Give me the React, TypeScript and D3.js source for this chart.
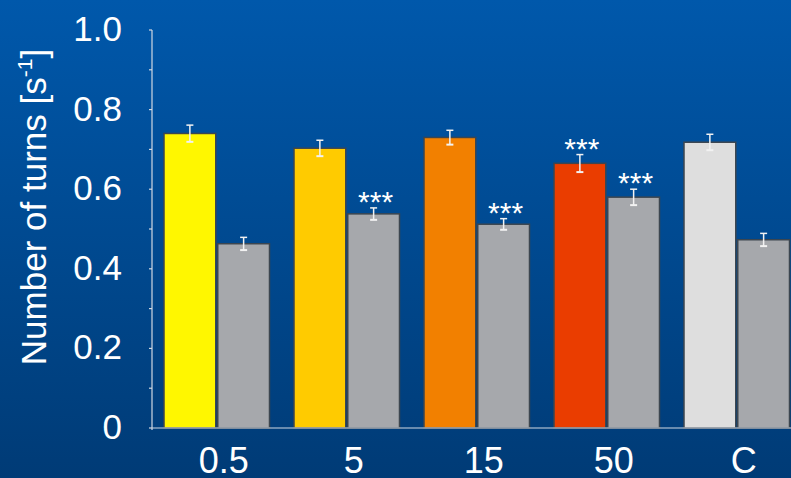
import React from "react";
import * as d3 from "d3";

const groups = ["0.5", "5", "15", "50", "C"];
const treatedValues = [0.74, 0.703, 0.73, 0.665, 0.718];
const treatedErrors = [0.021, 0.02, 0.018, 0.022, 0.02];
const grayValues = [0.463, 0.538, 0.512, 0.58, 0.473];
const grayErrors = [0.016, 0.015, 0.014, 0.02, 0.016];
const treatedColors = ["#FFF700", "#FFCB00", "#F28000", "#EA3D00", "#DEDEDE"];
const treatedStars = ["", "", "", "***", ""];
const grayStars = ["", "***", "***", "***", ""];
const yTicks = [0, 0.2, 0.4, 0.6, 0.8, 1.0];
const yMinorTicks = [0.1, 0.3, 0.5, 0.7, 0.9];

const W = 791;
const H = 478;
const FONT = "Liberation Sans, Arial, sans-serif";

export default function App() {
  const axisX = 152;
  const y = d3.scaleLinear().domain([0, 1]).range([428, 30]);
  const x0 = d3.scaleBand<string>().domain(groups).range([151.75, 801.75]).padding(0);
  const x1 = d3
    .scaleBand<string>()
    .domain(["t", "g"])
    .range([0, x0.bandwidth()])
    .paddingInner(0.0372)
    .paddingOuter(0.228);
  const bw = x1.bandwidth();

  const bars: any[] = [];
  groups.forEach((g, i) => {
    bars.push({ key: g + "t", x: (x0(g) as number) + (x1("t") as number), v: treatedValues[i], e: treatedErrors[i], fill: treatedColors[i], star: treatedStars[i] });
    bars.push({ key: g + "g", x: (x0(g) as number) + (x1("g") as number), v: grayValues[i], e: grayErrors[i], fill: "#A6A8AC", star: grayStars[i] });
  });

  const tickStr = (t: number) => (t === 0 ? "0" : t === 1 ? "1.0" : d3.format(".1f")(t));

  return (
    <svg width={W} height={H} style={{ position: "fixed", left: 0, top: 0, display: "block" }} fontFamily={FONT}>
      <defs>
        <linearGradient id="bg" x1="0" y1="0" x2="0" y2="1">
          <stop offset="0" stopColor="#0058AB" />
          <stop offset="1" stopColor="#003B76" />
        </linearGradient>
      </defs>
      <rect x={0} y={0} width={W} height={H} fill="url(#bg)" />

      {/* bars */}
      {bars.map((b) => (
        <g key={b.key}>
          <rect x={b.x} y={y(b.v)} width={bw} height={y(0) - y(b.v)} fill={b.fill} stroke="#3C4650" strokeWidth={1.5} />
          <line x1={b.x + bw / 2} x2={b.x + bw / 2} y1={y(b.v + b.e)} y2={y(b.v - b.e)} stroke="#F2F2F2" strokeWidth={1.5} />
          <line x1={b.x + bw / 2 - 3.5} x2={b.x + bw / 2 + 3.5} y1={y(b.v + b.e)} y2={y(b.v + b.e)} stroke="#F2F2F2" strokeWidth={1.5} />
          <line x1={b.x + bw / 2 - 3.5} x2={b.x + bw / 2 + 3.5} y1={y(b.v - b.e)} y2={y(b.v - b.e)} stroke="#F2F2F2" strokeWidth={2} />
          {b.star && (
            <text x={b.x + bw / 2 + 2} y={y(b.v + b.e) + 4} textAnchor="middle" fill="#FFFFFF" fontSize={30}>
              {b.star}
            </text>
          )}
        </g>
      ))}

      {/* axes */}
      <line x1={axisX} x2={axisX} y1={y(1)} y2={y(0) + 2} stroke="#D0D8E2" strokeWidth={1.2} />
      <line x1={axisX} x2={W} y1={y(0)} y2={y(0)} stroke="#D0D8E2" strokeWidth={1.2} />
      {[...yTicks, ...yMinorTicks].map((t) => (
        <line key={"tk" + t} x1={axisX - 3} x2={axisX} y1={y(t)} y2={y(t)} stroke="#D0D8E2" strokeWidth={1.2} />
      ))}
      {yTicks.map((t) => (
        <text key={"yl" + t} x={122} y={y(t) + 11} textAnchor="end" fill="#FFFFFF" fontSize={35}>
          {tickStr(t)}
        </text>
      ))}
      {groups.map((g) => (
        <text key={"xl" + g} x={(x0(g) as number) + x0.bandwidth() / 2 + 7} y={473} textAnchor="middle" fill="#FFFFFF" fontSize={36}>
          {g}
        </text>
      ))}
      <text transform={`translate(46,207) rotate(-90)`} textAnchor="middle" fill="#FFFFFF" fontSize={35}>
        Number of turns [s<tspan fontSize={21} dy={-14}>-1</tspan>
        <tspan dy={14}>]</tspan>
      </text>
    </svg>
  );
}
